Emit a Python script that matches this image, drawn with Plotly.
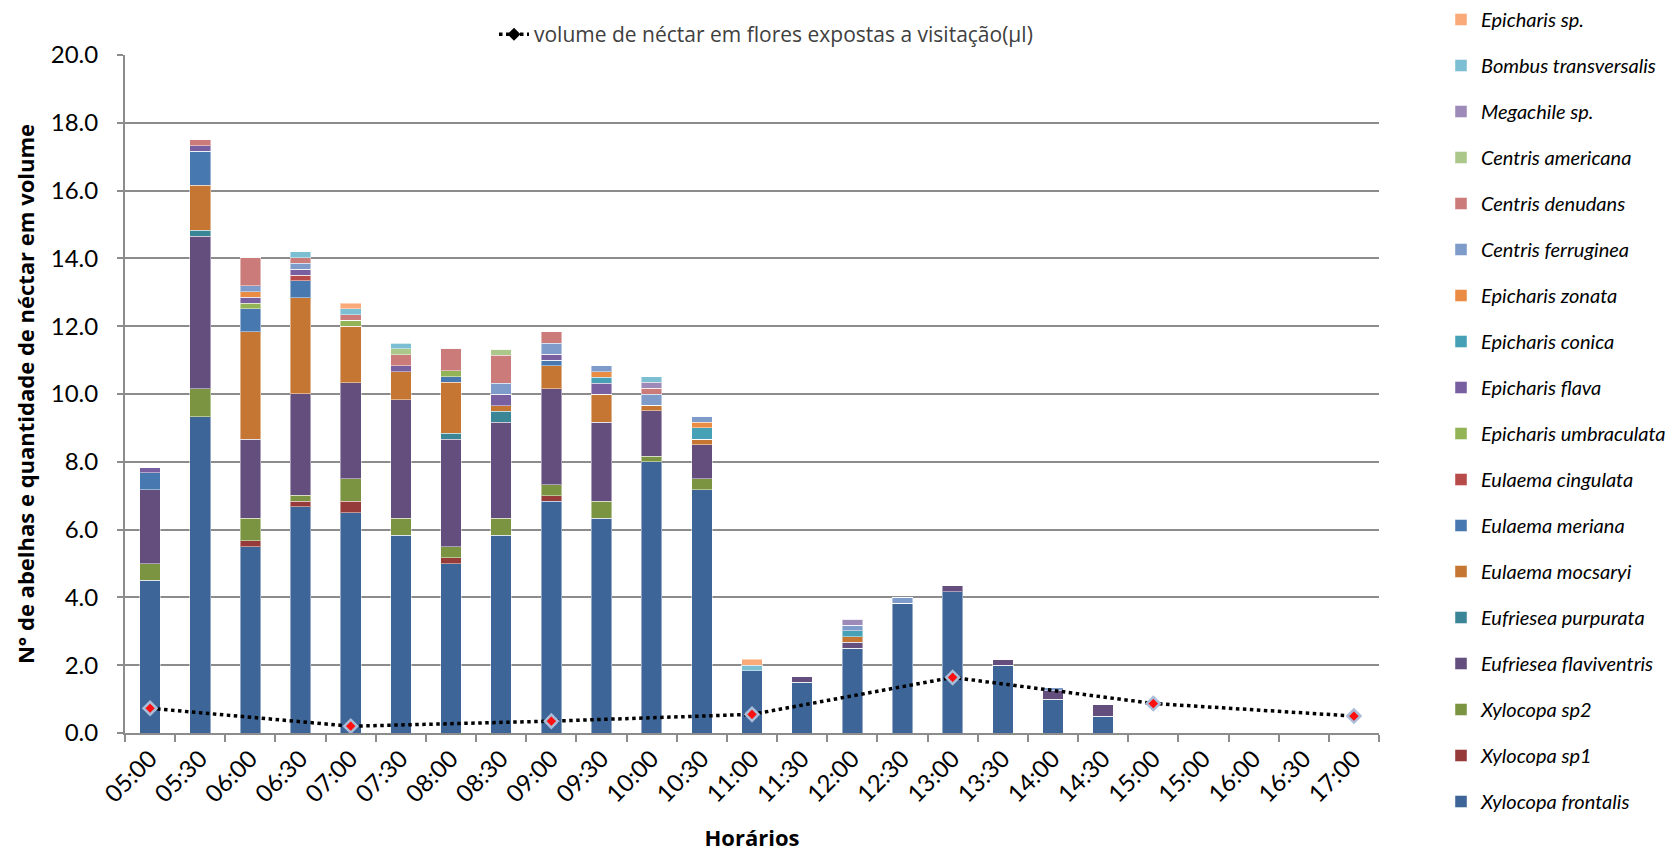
import plotly.graph_objects as go

# Half-hour observation slots (labels as printed on the axis)
horarios = ["05:00", "05:30", "06:00", "06:30", "07:00", "07:30", "08:00", "08:30",
            "09:00", "09:30", "10:00", "10:30", "11:00", "11:30", "12:00", "12:30",
            "13:00", "13:30", "14:00", "14:30", "15:00", "15:00", "16:00", "16:30", "17:00"]

# Mean number of bee visits per species and slot (bottom of the stack first)
xylocopa_frontalis = [4.5, 9.33, 5.5, 6.67, 6.5, 5.83, 5.0, 5.83, 6.83, 6.33, 8.0, 7.17,
                      1.83, 1.5, 2.5, 3.83, 4.17, 2.0, 1.0, 0.5, 0, 0, 0, 0, 0]
xylocopa_sp1 = [0, 0, 0.17, 0.17, 0.33, 0, 0.17, 0, 0.17, 0, 0, 0,
                0, 0, 0, 0, 0, 0, 0, 0, 0, 0, 0, 0, 0]
xylocopa_sp2 = [0.5, 0.83, 0.67, 0.17, 0.67, 0.5, 0.33, 0.5, 0.33, 0.5, 0.17, 0.33,
                0, 0, 0, 0, 0, 0, 0, 0, 0, 0, 0, 0, 0]
eufriesea_flaviventris = [2.17, 4.5, 2.33, 3.0, 2.83, 3.5, 3.17, 2.83, 2.83, 2.33, 1.33, 1.0,
                          0, 0.17, 0.17, 0, 0.17, 0.17, 0.25, 0.33, 0, 0, 0, 0, 0]
eufriesea_purpurata = [0, 0.17, 0, 0, 0, 0, 0.17, 0.33, 0, 0, 0, 0,
                       0, 0, 0, 0, 0, 0, 0, 0, 0, 0, 0, 0, 0]
eulaema_mocsaryi = [0, 1.33, 3.17, 2.83, 1.67, 0.83, 1.5, 0.17, 0.67, 0.83, 0.17, 0.17,
                    0, 0, 0.17, 0, 0, 0, 0, 0, 0, 0, 0, 0, 0]
eulaema_meriana = [0.5, 1.0, 0.67, 0.5, 0, 0, 0.17, 0, 0.17, 0, 0, 0,
                   0, 0, 0, 0, 0, 0, 0, 0, 0, 0, 0, 0, 0]
eulaema_cingulata = [0, 0, 0, 0.17, 0, 0, 0, 0, 0, 0, 0, 0,
                     0, 0, 0, 0, 0, 0, 0, 0, 0, 0, 0, 0, 0]
epicharis_umbraculata = [0, 0, 0.17, 0, 0.17, 0, 0.17, 0, 0, 0, 0, 0,
                         0, 0, 0, 0, 0, 0, 0, 0, 0, 0, 0, 0, 0]
epicharis_flava = [0.17, 0.17, 0.17, 0.17, 0, 0.17, 0, 0.33, 0.17, 0.33, 0, 0,
                   0, 0, 0, 0, 0, 0, 0, 0, 0, 0, 0, 0, 0]
epicharis_conica = [0, 0, 0, 0, 0, 0, 0, 0, 0, 0.17, 0, 0.33,
                    0, 0, 0.17, 0, 0, 0, 0, 0, 0, 0, 0, 0, 0]
epicharis_zonata = [0, 0, 0.17, 0, 0, 0, 0, 0, 0, 0.17, 0, 0.17,
                    0, 0, 0, 0, 0, 0, 0, 0, 0, 0, 0, 0, 0]
centris_ferruginea = [0, 0, 0.17, 0.17, 0, 0, 0, 0.33, 0.33, 0.17, 0.33, 0.17,
                      0, 0, 0.17, 0.17, 0, 0, 0.08, 0, 0, 0, 0, 0, 0]
centris_denudans = [0, 0.17, 0.83, 0.17, 0.17, 0.33, 0.67, 0.83, 0.33, 0, 0.17, 0,
                    0, 0, 0, 0, 0, 0, 0, 0, 0, 0, 0, 0, 0]
centris_americana = [0, 0, 0, 0, 0, 0.17, 0, 0.17, 0, 0, 0, 0,
                     0, 0, 0, 0, 0, 0, 0, 0, 0, 0, 0, 0, 0]
megachile_sp = [0, 0, 0, 0, 0, 0, 0, 0, 0, 0, 0.17, 0,
                0, 0, 0.17, 0, 0, 0, 0, 0, 0, 0, 0, 0, 0]
bombus_transversalis = [0, 0, 0, 0.17, 0.17, 0.17, 0, 0, 0, 0, 0.17, 0,
                        0.17, 0, 0, 0, 0, 0, 0, 0, 0, 0, 0, 0, 0]
epicharis_sp = [0, 0, 0, 0, 0.17, 0, 0, 0, 0, 0, 0, 0,
                0.17, 0, 0, 0, 0, 0, 0, 0, 0, 0, 0, 0, 0]

# Nectar volume (µl) in flowers exposed to visitors, measured every two hours
volume_nectar = [0.73, None, None, None, 0.2, None, None, None, 0.35, None, None, None,
                 0.55, None, None, None, 1.64, None, None, None, 0.87, None, None, None, 0.5]

series = [
    ("Xylocopa frontalis", xylocopa_frontalis, "#3D6597"),
    ("Xylocopa sp1", xylocopa_sp1, "#963B39"),
    ("Xylocopa sp2", xylocopa_sp2, "#7B9441"),
    ("Eufriesea flaviventris", eufriesea_flaviventris, "#634E7E"),
    ("Eufriesea purpurata", eufriesea_purpurata, "#3A8696"),
    ("Eulaema mocsaryi", eulaema_mocsaryi, "#C47632"),
    ("Eulaema meriana", eulaema_meriana, "#4878B0"),
    ("Eulaema cingulata", eulaema_cingulata, "#B64B4A"),
    ("Epicharis umbraculata", epicharis_umbraculata, "#92B356"),
    ("Epicharis flava", epicharis_flava, "#7860A0"),
    ("Epicharis conica", epicharis_conica, "#46A1B7"),
    ("Epicharis zonata", epicharis_zonata, "#EB8C44"),
    ("Centris ferruginea", centris_ferruginea, "#7E9BCA"),
    ("Centris denudans", centris_denudans, "#CB7B7A"),
    ("Centris americana", centris_americana, "#ABC78A"),
    ("Megachile sp.", megachile_sp, "#9E8AB8"),
    ("Bombus transversalis", bombus_transversalis, "#7CBFD2"),
    ("Epicharis sp.", epicharis_sp, "#FAAA78"),
]

pos = list(range(len(horarios)))

fig = go.Figure()

# Stacked bars; the legend lists the top of the stack first
n_series = len(series)
for i, (name, vals, color) in enumerate(series):
    fig.add_trace(go.Bar(
        x=pos, y=vals, name=name, legendgroup=name,
        legendrank=n_series - i,
        marker=dict(color=color, line=dict(color="rgba(255,255,255,0.45)", width=1)),
        legend="legend",
    ))

# Nectar volume line (legend at the top)
fig.add_trace(go.Scatter(
    x=pos, y=volume_nectar, mode="lines+markers", connectgaps=True,
    name="volume de néctar em flores expostas a visitação(µl)",
    line=dict(color="black", width=3.5, dash="dot"),
    marker=dict(symbol="diamond", size=10, color="black"),
    legend="legend2",
))
# Highlighted point markers on top of the line
fig.add_trace(go.Scatter(
    x=pos, y=volume_nectar, mode="markers", showlegend=False,
    marker=dict(symbol="diamond", size=10, color="#FF1010",
                line=dict(color="#A9BCD8", width=2.5)),
))

grid_col = "#8C8C8C"
boundaries = [p - 0.5 for p in pos] + [pos[-1] + 0.5]

fig.update_layout(
    width=1670, height=853,
    barmode="stack", bargap=0.59,
    plot_bgcolor="white", paper_bgcolor="white",
    margin=dict(l=125, r=291, t=55, b=120, autoexpand=False),
    font=dict(family="Lato", color="black"),
    legend=dict(
        traceorder="grouped", tracegroupgap=17,
        font=dict(family="Lato", size=20, style="italic", color="black"),
        xref="container", yref="container", x=1441 / 1670, y=1.0,
        xanchor="left", yanchor="top", bgcolor="rgba(0,0,0,0)",
        maxheight=1.0, itemclick=False,
    ),
    legend2=dict(
        orientation="h",
        font=dict(family="Open Sans", size=21, color="#404040"),
        xref="container", yref="container", x=494 / 1670, y=1 - 14 / 853,
        xanchor="left", yanchor="top", bgcolor="rgba(0,0,0,0)",
    ),
    xaxis=dict(
        range=[-0.5, len(horarios) - 0.5],
        tickmode="array", tickvals=pos, ticktext=horarios,
        tickangle=-45, ticks="", tickfont=dict(size=24, family="Lato"),
        showgrid=False, zeroline=False,
        showline=True, linecolor=grid_col, linewidth=2,
        minor=dict(tickmode="array", tickvals=boundaries, ticks="outside",
                   ticklen=7, tickcolor=grid_col, tickwidth=2, showgrid=False),
        title=dict(text="<b>Horários</b>", font=dict(family="Open Sans", size=22),
                   standoff=24),
    ),
    yaxis=dict(
        range=[0, 20], dtick=2, tickformat=".1f",
        tickfont=dict(size=24, family="Lato"),
        ticks="outside", ticklen=6, tickcolor=grid_col, tickwidth=2,
        showgrid=True, gridcolor=grid_col, gridwidth=2,
        zeroline=False, showline=True, linecolor=grid_col, linewidth=2,
        ticklabelstandoff=14,
        title=dict(text="<b>N° de abelhas e quantidade de néctar em volume</b>",
                   font=dict(family="Open Sans", size=22), standoff=10),
    ),
)

fig.write_html("out.html")
